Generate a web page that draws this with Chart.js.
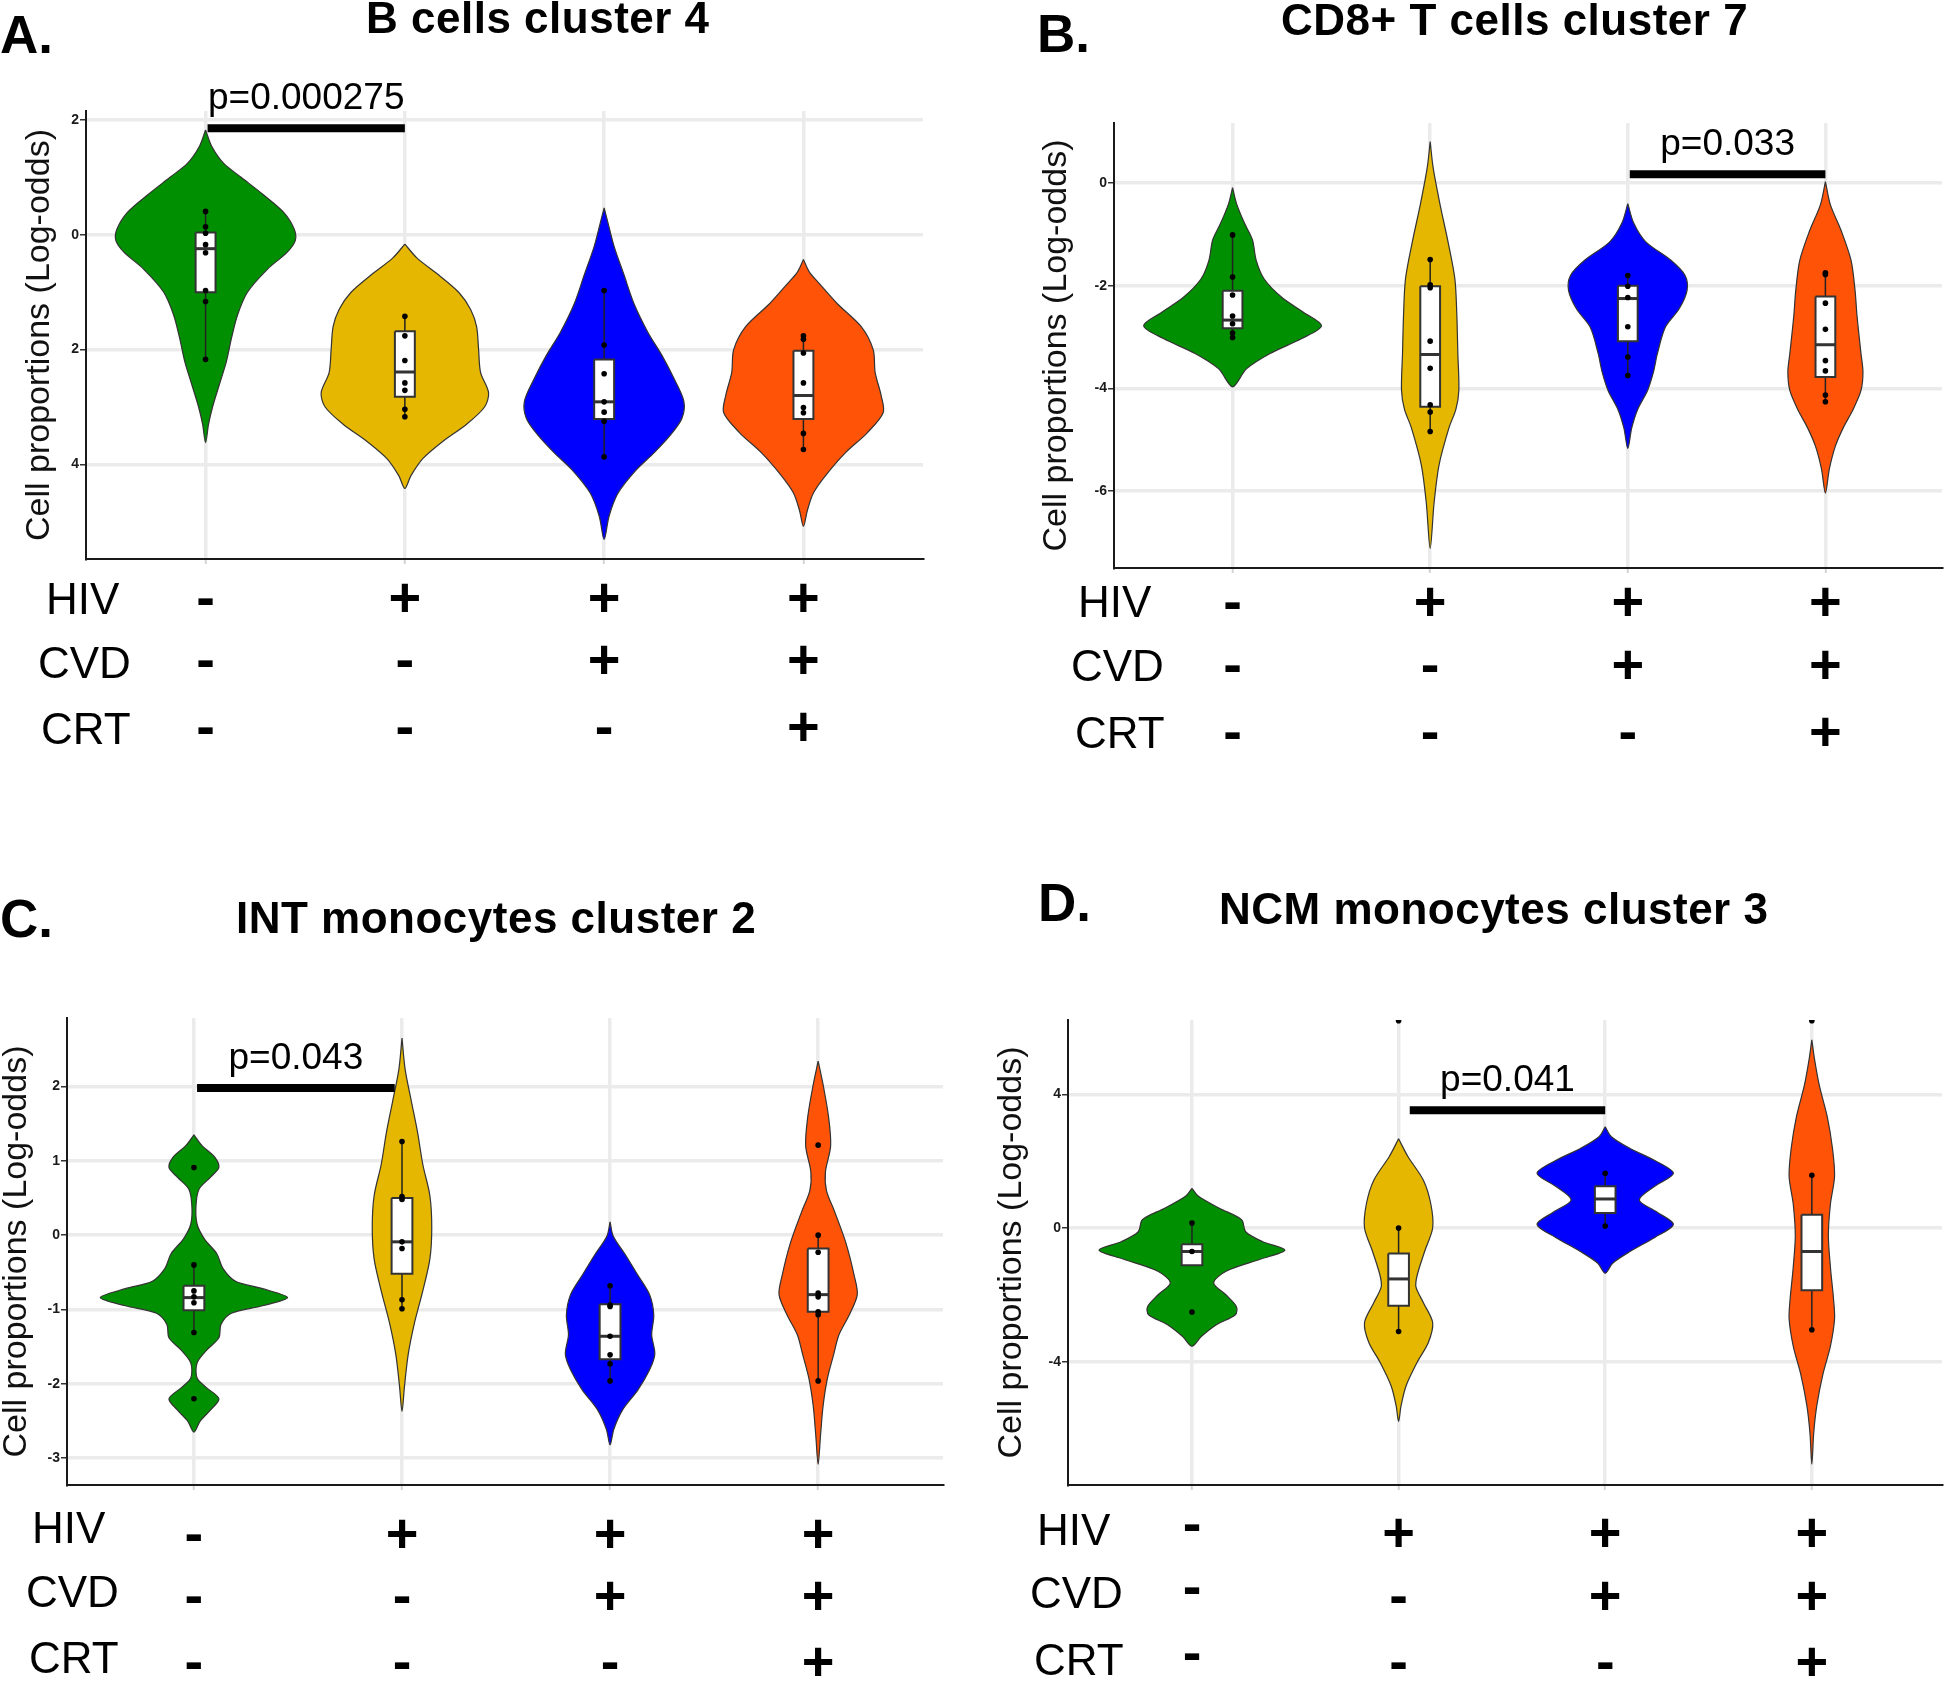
<!DOCTYPE html>
<html>
<head>
<meta charset="utf-8">
<title>Cell proportions by HIV / CVD / CRT group</title>
<script src="https://cdn.jsdelivr.net/npm/chart.js@4.4.1/dist/chart.umd.min.js"></script>
<style>
  html, body { margin: 0; padding: 0; background: #fff; }
  #figure { position: relative; width: 1946px; height: 1681px; }
  #figure canvas { position: absolute; }
</style>
</head>
<body>
<div id="figure">
  <canvas id="panelA" width="973" height="840" style="left:0;top:0"></canvas>
  <canvas id="panelB" width="973" height="840" style="left:973px;top:0"></canvas>
  <canvas id="panelC" width="973" height="841" style="left:0;top:840px"></canvas>
  <canvas id="panelD" width="973" height="841" style="left:973px;top:840px"></canvas>
</div>
<script>
const FONT = '"Liberation Sans", Arial, Helvetica, sans-serif';

// groups along x (0..3) and their status rows under the plot
const groupPos = [0, 1, 2, 3];
const groupColors = ['#008F00', '#E5B700', '#0000FF', '#FF5308'];
const rowNames = ['HIV', 'CVD', 'CRT'];
const hivRow = ['-', '+', '+', '+'];
const cvdRow = ['-', '-', '+', '+'];
const crtRow = ['-', '-', '-', '+'];
const yTitle = 'Cell proportions (Log-odds)';

// violins: [log-odds, half width in group units], top to bottom
// boxes: [lower whisker, q1, median, q3, upper whisker]

// A. B cells cluster 4
const aTitle = 'B cells cluster 4';
const aRange = [-5.65, 2.16];
const aTicks = [2, 0, -2, -4];
const aTickLabels = ['2', '0', '2', '4'];
const aViolins = [
  [[1.83,0],[1.55,0.03],[1.25,0.09],[1.0,0.18],[0.7,0.29],[0.4,0.39],[0.1,0.445],[-0.1,0.45],[-0.3,0.41],[-0.6,0.31],[-1.0,0.21],[-1.4,0.16],[-1.8,0.13],[-2.2,0.105],[-2.6,0.07],[-3.0,0.035],[-3.3,0.015],[-3.62,0]],
  [[-0.16,0],[-0.4,0.06],[-0.7,0.17],[-1.0,0.27],[-1.3,0.33],[-1.6,0.36],[-2.0,0.37],[-2.4,0.38],[-2.75,0.42],[-3.0,0.40],[-3.3,0.31],[-3.6,0.19],[-3.9,0.09],[-4.2,0.03],[-4.42,0]],
  [[0.47,0],[0.2,0.02],[-0.2,0.05],[-0.7,0.10],[-1.2,0.15],[-1.7,0.22],[-2.1,0.29],[-2.5,0.35],[-2.9,0.40],[-3.2,0.39],[-3.5,0.33],[-3.8,0.25],[-4.1,0.16],[-4.5,0.07],[-4.9,0.025],[-5.31,0]],
  [[-0.43,0],[-0.65,0.03],[-0.85,0.08],[-1.2,0.17],[-1.6,0.29],[-2.0,0.35],[-2.4,0.36],[-2.8,0.39],[-3.1,0.40],[-3.45,0.32],[-3.8,0.21],[-4.2,0.11],[-4.5,0.05],[-4.8,0.02],[-5.08,0]]
];
const aBoxes = [
  [-2.17, -1.0, -0.24, 0.04, 0.41],
  [-3.17, -2.82, -2.39, -1.68, -1.42],
  [-3.87, -3.21, -2.91, -2.17, -0.97],
  [-3.74, -3.21, -2.80, -2.02, -1.76]
];
const aPoints = [
  [0.41, 0.14, 0.03, -0.17, -0.31, -0.97, -1.16, -2.17],
  [-1.42, -1.76, -2.19, -2.58, -2.71, -3.04, -3.17],
  [-0.97, -1.92, -2.42, -2.91, -3.09, -3.25, -3.87],
  [-1.76, -1.82, -2.06, -2.58, -3.01, -3.10, -3.46, -3.74]
];
const aPBar = [0.01, 1.0, 1.86];
const aPText = 'p=0.000275';

// B. CD8+ T cells cluster 7
const bTitle = 'CD8+ T cells cluster 7';
const bRange = [-7.5, 1.17];
const bTicks = [0, -2, -4, -6];
const bTickLabels = ['0', '-2', '-4', '-6'];
const bViolins = [
  [[-0.09,0],[-0.4,0.02],[-0.78,0.06],[-1.1,0.10],[-1.51,0.12],[-1.87,0.16],[-2.23,0.25],[-2.52,0.36],[-2.78,0.45],[-3.03,0.35],[-3.32,0.19],[-3.62,0.07],[-3.97,0]],
  [[0.81,0],[0.30,0.015],[-0.42,0.05],[-1.14,0.09],[-1.87,0.125],[-2.59,0.135],[-3.32,0.14],[-4.04,0.145],[-4.41,0.13],[-4.77,0.095],[-5.49,0.045],[-6.22,0.02],[-7.12,0]],
  [[-0.40,0],[-0.78,0.03],[-1.14,0.09],[-1.51,0.22],[-1.80,0.29],[-2.09,0.30],[-2.45,0.26],[-2.81,0.19],[-3.32,0.15],[-3.68,0.13],[-4.04,0.10],[-4.41,0.05],[-4.77,0.02],[-5.17,0]],
  [[0.03,0],[-0.42,0.025],[-0.93,0.08],[-1.51,0.13],[-2.09,0.15],[-2.59,0.16],[-3.32,0.18],[-3.68,0.19],[-4.04,0.18],[-4.41,0.14],[-4.77,0.09],[-5.13,0.05],[-5.57,0.02],[-6.04,0]]
];
const bBoxes = [
  [-3.03, -2.83, -2.67, -2.10, -1.01],
  [-4.84, -4.36, -3.34, -2.01, -1.49],
  [-3.75, -3.08, -2.25, -2.00, -1.80],
  [-4.26, -3.78, -3.15, -2.21, -1.75]
];
const bPoints = [
  [-1.01, -1.83, -2.18, -2.59, -2.74, -2.92, -3.01],
  [-1.49, -1.98, -2.04, -3.08, -3.61, -4.32, -4.46, -4.84],
  [-1.80, -2.01, -2.23, -2.80, -3.39, -3.75],
  [-1.75, -1.78, -2.34, -2.85, -3.46, -3.66, -4.13, -4.26]
];
const bPBar = [2.01, 3.0, 0.17];
const bPText = 'p=0.033';

// C. INT monocytes cluster 2
const cTitle = 'INT monocytes cluster 2';
const cRange = [-3.36, 2.92];
const cTicks = [2, 1, 0, -1, -2, -3];
const cTickLabels = ['2', '1', '0', '-1', '-2', '-3'];
const cViolins = [
  [[1.35,0],[1.2,0.04],[1.05,0.10],[0.91,0.12],[0.78,0.08],[0.62,0.025],[0.40,0.01],[0.15,0.015],[-0.05,0.05],[-0.25,0.11],[-0.45,0.14],[-0.62,0.20],[-0.72,0.33],[-0.84,0.45],[-0.95,0.33],[-1.05,0.18],[-1.2,0.13],[-1.38,0.12],[-1.55,0.06],[-1.72,0.015],[-1.92,0.015],[-2.05,0.06],[-2.2,0.12],[-2.35,0.08],[-2.5,0.03],[-2.65,0]],
  [[2.65,0],[2.23,0.015],[1.80,0.045],[1.38,0.075],[0.95,0.10],[0.53,0.134],[0.10,0.143],[-0.32,0.134],[-0.75,0.10],[-1.18,0.06],[-1.60,0.03],[-2.03,0.012],[-2.37,0]],
  [[0.18,0],[-0.01,0.015],[-0.27,0.075],[-0.54,0.134],[-0.80,0.19],[-1.07,0.21],[-1.34,0.20],[-1.60,0.215],[-1.81,0.19],[-2.08,0.134],[-2.35,0.06],[-2.61,0.018],[-2.82,0]],
  [[2.34,0],[2.02,0.024],[1.59,0.05],[1.2,0.06],[0.85,0.035],[0.6,0.04],[0.31,0.08],[-0.11,0.134],[-0.54,0.173],[-0.80,0.188],[-1.07,0.15],[-1.34,0.10],[-1.60,0.075],[-1.92,0.045],[-2.29,0.024],[-2.67,0.012],[-3.08,0]]
];
const cBoxes = [
  [-1.31, -1.01, -0.84, -0.68, -0.40],
  [-0.99, -0.52, -0.09, 0.50, 1.26],
  [-1.96, -1.67, -1.36, -0.93, -0.68],
  [-1.96, -1.03, -0.80, -0.18, 0.01]
];
const cPoints = [
  [0.91, -0.40, -0.75, -0.83, -0.91, -1.31, -2.20],
  [1.26, 0.52, 0.48, -0.09, -0.18, -0.87, -0.99],
  [-0.68, -0.94, -0.96, -1.36, -1.61, -1.73, -1.96],
  [1.21, 0.0, -0.23, -0.78, -0.83, -1.03, -1.07, -1.96]
];
const cPBar = [0.015, 0.965, 1.98];
const cPText = 'p=0.043';

// D. NCM monocytes cluster 3
const dTitle = 'NCM monocytes cluster 3';
const dRange = [-7.68, 6.22];
const dTicks = [4, 0, -4];
const dTickLabels = ['4', '0', '-4'];
const dViolins = [
  [[1.19,0],[0.96,0.03],[0.60,0.13],[0.25,0.24],[-0.11,0.26],[-0.40,0.34],[-0.66,0.45],[-0.93,0.33],[-1.29,0.165],[-1.64,0.105],[-2.0,0.165],[-2.35,0.215],[-2.59,0.21],[-2.88,0.12],[-3.24,0.045],[-3.53,0]],
  [[2.67,0],[2.14,0.045],[1.43,0.12],[0.72,0.156],[0.01,0.165],[-0.70,0.126],[-1.41,0.09],[-1.76,0.084],[-2.23,0.12],[-2.83,0.165],[-3.42,0.144],[-4.01,0.09],[-4.72,0.036],[-5.31,0.012],[-5.78,0]],
  [[3.03,0],[2.73,0.03],[2.38,0.12],[2.02,0.24],[1.64,0.33],[1.25,0.24],[0.84,0.165],[0.48,0.25],[0.11,0.33],[-0.28,0.24],[-0.70,0.12],[-1.05,0.036],[-1.35,0]],
  [[5.63,0],[5.09,0.012],[4.27,0.036],[3.32,0.075],[2.38,0.10],[1.55,0.11],[0.72,0.09],[-0.22,0.08],[-1.17,0.09],[-2.12,0.105],[-2.71,0.11],[-3.53,0.09],[-4.36,0.054],[-5.31,0.024],[-6.13,0.009],[-7.06,0]]
];
const dBoxes = [
  [-1.11, -1.11, -0.70, -0.48, 0.15],
  [-3.09, -2.32, -1.52, -0.76, 0.0],
  [0.06, 0.45, 0.87, 1.25, 1.64],
  [-3.04, -1.86, -0.70, 0.40, 1.58]
];
const dPoints = [
  [0.15, -0.70, -2.51],
  [6.2, 0.0, -3.09],
  [1.64, 0.06],
  [6.2, 1.58, -3.04]
];
const dPBar = [1.054, 2.0, 3.52];
const dPText = 'p=0.041';

// placement of each panel inside its canvas (pixels)
const layoutA = { letter: 'A.', letterX: 0, letterY: 53, titleX: 366, titleY: 33,
  left: 86, top: 111, right: 923, bottom: 559, xRange: [-0.6, 3.6], yTitleX: 40,
  labelX: [46, 38, 41], labelY: [598, 662, 728], signY: [599, 661, 728], firstSignDy: 0 };
const layoutB = { letter: 'B.', letterX: 64, letterY: 52, titleX: 308, titleY: 35,
  left: 141, top: 123, right: 973, bottom: 568, xRange: [-0.6, 3.59], yTitleX: 84,
  labelX: [105, 98, 102], labelY: [601, 665, 732], signY: [603, 666, 733], firstSignDy: 0 };
const layoutC = { letter: 'C.', letterX: 0, letterY: 97, titleX: 236, titleY: 93,
  left: 67, top: 178, right: 943, bottom: 645, xRange: [-0.61, 3.6], yTitleX: 17,
  labelX: [32, 26, 29], labelY: [687, 751, 817], signY: [695, 757, 823], firstSignDy: 0 };
const layoutD = { letter: 'D.', letterX: 65, letterY: 81, titleX: 246, titleY: 84,
  left: 95, top: 180, right: 973, bottom: 645, xRange: [-0.6, 3.63], yTitleX: 39,
  labelX: [64, 57, 61], labelY: [689, 752, 819], signY: [694, 757, 823], firstSignDy: -9 };

const X_AXIS_H = 20;
const BOX_HALF = 0.05;

// letters, titles, p-values and the HIV/CVD/CRT table
const annotate = {
  id: 'annotate',
  afterDraw(chart, args, o) {
    const { ctx } = chart;
    const xs = chart.scales.x, ys = chart.scales.y;
    ctx.save();
    ctx.fillStyle = '#000';
    ctx.textBaseline = 'alphabetic';
    ctx.textAlign = 'left';

    ctx.font = 'bold 53px ' + FONT;
    ctx.fillText(o.lay.letter, o.lay.letterX, o.lay.letterY);

    ctx.font = 'bold 44px ' + FONT;
    ctx.letterSpacing = '0.5px';
    ctx.fillText(o.title, o.lay.titleX, o.lay.titleY);
    ctx.letterSpacing = '0px';

    const [p1, p2, pv] = o.pBar;
    ctx.font = '37px ' + FONT;
    ctx.textAlign = 'center';
    ctx.fillText(o.pText, xs.getPixelForValue((p1 + p2) / 2), ys.getPixelForValue(pv) - 19);

    const rows = [hivRow, cvdRow, crtRow];
    rows.forEach((row, r) => {
      ctx.font = '44px ' + FONT;
      ctx.textAlign = 'left';
      ctx.fillText(rowNames[r], o.lay.labelX[r], o.lay.labelY[r] + 16);
      ctx.font = 'bold 56px ' + FONT;
      ctx.textAlign = 'center';
      row.forEach((s, i) => {
        const dy = i === 0 ? o.lay.firstSignDy : 0;
        ctx.fillText(s, xs.getPixelForValue(groupPos[i]), o.lay.signY[r] + 17 + dy);
      });
    });
    ctx.restore();
  }
};

function makePanel(p) {
  const canvas = document.getElementById(p.id);
  const lay = p.layout;
  const datasets = [];

  p.violins.forEach((prof, i) => {
    const right = prof.map(([v, w]) => ({ x: groupPos[i] + w, y: v }));
    const left = prof.slice(0, -1).reverse().map(([v, w]) => ({ x: groupPos[i] - w, y: v }));
    datasets.push({
      type: 'line', data: right.concat(left), order: 5,
      backgroundColor: groupColors[i], fill: 'shape',
      borderColor: '#333', borderWidth: 1.2, tension: 0.3,
      borderJoinStyle: 'round', pointRadius: 0
    });
  });

  p.boxes.forEach(([lo, q1, med, q3, hi], i) => {
    const c = groupPos[i];
    datasets.push({
      type: 'line', order: 4, data: [{ x: c, y: lo }, { x: c, y: hi }],
      borderColor: '#222', borderWidth: 1.5, pointRadius: 0, fill: false
    });
    datasets.push({
      type: 'line', order: 3,
      data: [{ x: c - BOX_HALF, y: q3 }, { x: c + BOX_HALF, y: q3 }, { x: c + BOX_HALF, y: q1 },
             { x: c - BOX_HALF, y: q1 }, { x: c - BOX_HALF, y: q3 }],
      backgroundColor: '#fff', fill: 'shape', borderColor: '#333', borderWidth: 2,
      tension: 0, pointRadius: 0
    });
    datasets.push({
      type: 'line', order: 2, data: [{ x: c - BOX_HALF, y: med }, { x: c + BOX_HALF, y: med }],
      borderColor: '#333', borderWidth: 3, pointRadius: 0, fill: false
    });
  });

  p.points.forEach((vals, i) => {
    datasets.push({
      type: 'scatter', order: 0,
      data: vals.map(v => ({ x: groupPos[i], y: v })),
      pointRadius: 2.8, pointBackgroundColor: '#000', pointBorderWidth: 0
    });
  });

  datasets.push({
    type: 'line', order: 1,
    data: [{ x: p.pBar[0], y: p.pBar[2] }, { x: p.pBar[1], y: p.pBar[2] }],
    borderColor: '#000', borderWidth: 8, borderCapStyle: 'butt', pointRadius: 0, fill: false
  });

  new Chart(canvas, {
    type: 'scatter',
    data: { datasets },
    options: {
      responsive: false,
      animation: false,
      events: [],
      layout: {
        padding: { left: 0, top: lay.top, right: canvas.width - lay.right,
                   bottom: canvas.height - lay.bottom - X_AXIS_H }
      },
      plugins: {
        legend: { display: false },
        tooltip: { enabled: false },
        annotate: { lay, title: p.title, pBar: p.pBar, pText: p.pText }
      },
      scales: {
        x: {
          type: 'linear', min: lay.xRange[0], max: lay.xRange[1],
          afterBuildTicks: s => { s.ticks = groupPos.map(v => ({ value: v })); },
          afterFit: s => { s.height = X_AXIS_H; },
          ticks: { display: false },
          grid: { color: '#EBEBEB', lineWidth: 3.5, tickLength: 5, tickColor: '#d4d4d4', tickWidth: 2 },
          border: { color: '#1a1a1a', width: 2 }
        },
        y: {
          type: 'linear', min: p.range[0], max: p.range[1],
          afterBuildTicks: s => { s.ticks = p.ticks.map(v => ({ value: v })); },
          afterFit: s => { s.width = lay.left; },
          ticks: {
            callback: v => p.tickLabels[p.ticks.indexOf(v)],
            font: { family: FONT, size: 14, weight: 'bold' },
            color: '#1a1a1a', padding: 1
          },
          grid: { color: '#EBEBEB', lineWidth: 3.5, tickLength: 6, tickColor: '#333', tickWidth: 1.5 },
          border: { color: '#1a1a1a', width: 2 },
          title: {
            display: true, text: yTitle, color: '#111',
            font: { family: FONT, size: 34, lineHeight: 1 },
            padding: { top: Math.max(0, lay.yTitleX - 17), bottom: 0 }
          }
        }
      }
    },
    plugins: [annotate]
  });
}

[
  { id: 'panelA', title: aTitle, range: aRange, ticks: aTicks, tickLabels: aTickLabels,
    violins: aViolins, boxes: aBoxes, points: aPoints, pBar: aPBar, pText: aPText, layout: layoutA },
  { id: 'panelB', title: bTitle, range: bRange, ticks: bTicks, tickLabels: bTickLabels,
    violins: bViolins, boxes: bBoxes, points: bPoints, pBar: bPBar, pText: bPText, layout: layoutB },
  { id: 'panelC', title: cTitle, range: cRange, ticks: cTicks, tickLabels: cTickLabels,
    violins: cViolins, boxes: cBoxes, points: cPoints, pBar: cPBar, pText: cPText, layout: layoutC },
  { id: 'panelD', title: dTitle, range: dRange, ticks: dTicks, tickLabels: dTickLabels,
    violins: dViolins, boxes: dBoxes, points: dPoints, pBar: dPBar, pText: dPText, layout: layoutD }
].forEach(makePanel);
</script>
</body>
</html>
